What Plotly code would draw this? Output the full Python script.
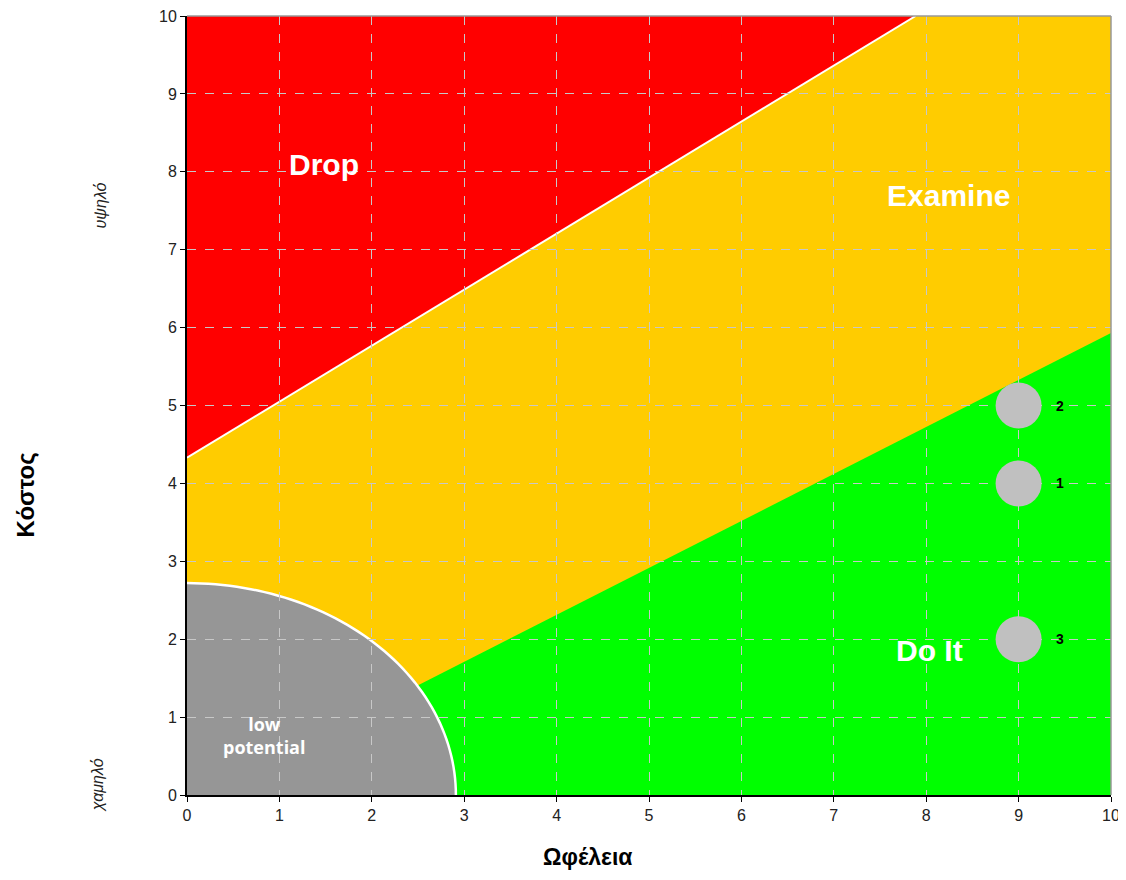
import numpy as np
import plotly.graph_objects as go

# ---- data ----
point_x = [9, 9, 9]
point_y = [4, 5, 2]
point_labels = ["1", "2", "3"]

tick_vals = [0, 1, 2, 3, 4, 5, 6, 7, 8, 9, 10]

# zone boundaries (cost = intercept + slope * benefit)
red_intercept, red_slope = 4.33, 0.719
green_intercept, green_slope = -0.10, 0.603
low_rx, low_ry = 2.91, 2.72   # low-potential quarter ellipse radii

zone_labels = ["Drop", "Examine", "Do It"]
zone_label_x = [1.48, 8.24, 8.04]
zone_label_y = [8.09, 7.69, 1.85]
low_label = "low<br>potential"
low_label_xy = (0.84, 0.77)

x_title = "Ωφέλεια"
y_title = "Κόστος"
y_high, y_low = "υψηλό", "χαμηλό"

XMAX, YMAX = 10, 10

fig = go.Figure()

def path(pts):
    return "M " + " L ".join(f"{x},{y}" for x, y in pts) + " Z"

# yellow background zone
fig.add_shape(type="rect", xref="x", yref="y", x0=0, y0=0, x1=XMAX, y1=YMAX,
              fillcolor="#FFCC00", line=dict(width=0), layer="below")
# red zone
x_top = (YMAX - red_intercept) / red_slope
fig.add_shape(type="path", xref="x", yref="y", layer="below",
              path=path([(0, red_intercept), (x_top, YMAX), (0, YMAX)]),
              fillcolor="#FF0000", line=dict(width=0))
fig.add_shape(type="line", xref="x", yref="y", layer="below",
              x0=0, y0=red_intercept, x1=x_top, y1=YMAX,
              line=dict(color="white", width=2))
# green zone
x_zero = -green_intercept / green_slope
y_right = green_intercept + green_slope * XMAX
fig.add_shape(type="path", xref="x", yref="y", layer="below",
              path=path([(x_zero, 0), (XMAX, y_right), (XMAX, 0)]),
              fillcolor="#00FF00", line=dict(width=0))
# low potential quarter ellipse
t = np.linspace(0, np.pi / 2, 60)
ell = [(0, 0)] + [(low_rx * np.cos(a), low_ry * np.sin(a)) for a in t]
fig.add_shape(type="path", xref="x", yref="y", layer="below",
              path=path(ell), fillcolor="#969696", line=dict(width=0))
arc = "M " + " L ".join(f"{low_rx*np.cos(a)},{low_ry*np.sin(a)}" for a in t)
fig.add_shape(type="path", xref="x", yref="y", layer="below",
              path=arc, line=dict(color="white", width=2.5))

# top/right border
fig.add_shape(type="line", xref="x domain", yref="y domain", x0=0, y0=1, x1=1, y1=1,
              line=dict(color="#999999", width=1.5))
fig.add_shape(type="line", xref="x domain", yref="y domain", x0=1, y0=0, x1=1, y1=1,
              line=dict(color="#999999", width=1.5))

# points
fig.add_trace(go.Scatter(x=point_x, y=point_y, mode="markers",
                         marker=dict(size=46, color="#C0C0C0", line=dict(width=0)),
                         hoverinfo="skip", showlegend=False))
for x, y, lab in zip(point_x, point_y, point_labels):
    fig.add_annotation(x=x, y=y, text=f"<b>{lab}</b>", showarrow=False, xshift=41,
                       font=dict(family="Liberation Sans, Arial", size=14, color="black"))

for lab, x, y in zip(zone_labels, zone_label_x, zone_label_y):
    fig.add_annotation(x=x, y=y, text=f"<b>{lab}</b>", showarrow=False,
                       font=dict(family="Liberation Sans, Arial", size=30, color="white"))
fig.add_annotation(x=low_label_xy[0], y=low_label_xy[1], text=f"<b>{low_label}</b>",
                   showarrow=False,
                   font=dict(family="Open Sans, Liberation Sans", size=18, color="white"))

# axis titles
fig.add_annotation(xref="paper", yref="paper", x=-0.175, y=0.385, text=f"<b>{y_title}</b>",
                   textangle=-90, showarrow=False, xanchor="center", yanchor="middle",
                   font=dict(family="Liberation Sans, Arial", size=24, color="black"))
fig.add_annotation(xref="paper", yref="paper", x=0.434, y=-0.0985, text=f"<b>{x_title}</b>",
                   showarrow=False, xanchor="center", yanchor="bottom",
                   font=dict(family="Liberation Sans, Arial", size=23, color="black"))
fig.add_annotation(xref="paper", yref="y", x=-0.094, y=7.57, text=f"<i>{y_high}</i>",
                   textangle=-90, showarrow=False, xanchor="center", yanchor="middle",
                   font=dict(family="Liberation Sans, Arial", size=16, color="#222222"))
fig.add_annotation(xref="paper", yref="y", x=-0.097, y=0.13, text=f"<i>{y_low}</i>",
                   textangle=-90, showarrow=False, xanchor="center", yanchor="middle",
                   font=dict(family="Liberation Sans, Arial", size=16, color="#222222"))

axis_common = dict(range=[0, 10], tickvals=tick_vals, showgrid=True,
                   gridcolor="#C8C8C8", griddash="dash", gridwidth=1.3,
                   showline=True, linecolor="black", linewidth=2,
                   ticks="outside", ticklen=5, tickcolor="black", zeroline=False,
                   tickfont=dict(family="Liberation Sans, Arial", size=16, color="#222222"),
                   ticklabeloverflow="allow",
                   fixedrange=True, automargin=False)
fig.update_xaxes(**axis_common)
fig.update_yaxes(**axis_common)

# page body has an 8px margin: plot area at 187..1111 x 16..795 in the window
fig.update_layout(width=1116, height=864, margin=dict(l=179, r=13, t=8, b=77),
                  paper_bgcolor="white", plot_bgcolor="white", showlegend=False)

fig.write_html("out.html")
